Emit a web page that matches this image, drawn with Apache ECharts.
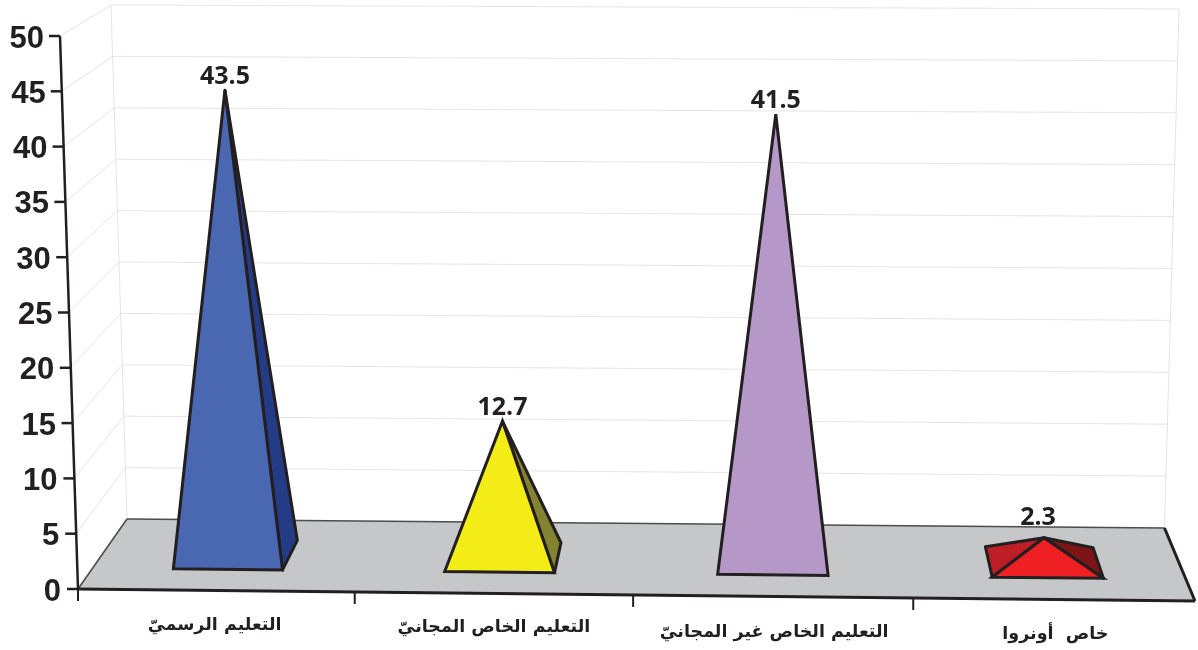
<!DOCTYPE html>
<html><head><meta charset="utf-8">
<style>html,body{margin:0;padding:0;background:#fff}#c{width:1198px;height:650px}</style>
<script src="https://cdn.jsdelivr.net/npm/echarts@6/dist/echarts.min.js"></script>
</head><body><div id="c"></div>
<script>
const categories = ['التعليم الرسميّ', 'التعليم الخاص المجانيّ', 'التعليم الخاص غير المجانيّ', 'خاص  أونروا'];
const values = [43.5, 12.7, 41.5, 2.3];
const valueLabels = ['43.5', '12.7', '41.5', '2.3'];
const yTicks = [0, 5, 10, 15, 20, 25, 30, 35, 40, 45, 50];
const faceColors = ['#4a68b1', '#f3ec17', '#b598c7', '#ee2024'];
const leftColors = ['#243b85', '#838332', '#8f78a0', '#be1e26'];
const rightColors = ['#243b85', '#838332', '#8f78a0', '#7f1416'];

// perspective frame: front/back, left/right corners at value 0 and at the axis maximum
const INK = '#231f20';
const WALL = '#e4e5e5';
const FRAME = {
  flb: [78, 589], frb: [1195, 601], blb: [127, 519], brb: [1164.5, 528],
  flt: [60, 36], frt: [1213, 41], blt: [111, 5], brt: [1179, 9]
};
function lerp(a, b, s) { return [a[0] + (b[0] - a[0]) * s, a[1] + (b[1] - a[1]) * s]; }
function project(u, t, w) {
  const uu = u - 0.012 * u * (1 - u);
  const bottom = lerp(lerp(FRAME.flb, FRAME.frb, uu), lerp(FRAME.blb, FRAME.brb, uu), w);
  const top = lerp(lerp(FRAME.flt, FRAME.frt, uu), lerp(FRAME.blt, FRAME.brt, uu), w);
  return lerp(bottom, top, t);
}
function toFrac(params, api, xv, yv) {
  const cs = params.coordSys;
  const p = api.coord([xv, yv]);
  return [(p[0] - cs.x) / cs.width, (cs.y + cs.height - p[1]) / cs.height];
}
const DEPTH_FRONT = 0.3, DEPTH_BACK = 0.72, DEPTH_MID = 0.51, HALF = 0.2015;

function poly(points, fill) {
  return { type: 'polygon', shape: { points }, style: { fill, stroke: 'none' } };
}
function sideFace(points, fill) {
  return { type: 'polygon', shape: { points }, style: { fill, stroke: INK, lineWidth: 3, lineJoin: 'round' } };
}
function peak(points, fill) {
  return { type: 'polygon', shape: { points }, style: { fill, stroke: INK, lineWidth: 3, lineJoin: 'miter', miterLimit: 8 } };
}
function line(a, b, stroke, lw) {
  return { type: 'line', shape: { x1: a[0], y1: a[1], x2: b[0], y2: b[1] }, style: { stroke, lineWidth: lw, lineCap: 'butt' } };
}
// signed pixel distance of point p from the ray a -> b
function side(a, b, p) {
  const dx = b[0] - a[0], dy = b[1] - a[1];
  return (dx * (p[1] - a[1]) - dy * (p[0] - a[0])) / Math.hypot(dx, dy);
}

function renderWall(params, api) {
  const t = toFrac(params, api, 0, api.value(0))[1];
  const kids = [
    line(project(0, t, 0), project(0, t, 1), WALL, 1),
    line(project(0, t, 1), project(1, t, 1), WALL, 1)
  ];
  if (params.dataIndex === 0) {
    kids.push(line(project(0, 0, 1), project(0, 1, 1), WALL, 1));
    kids.push(line(project(1, 0, 1), project(1, 1, 1), WALL, 1));
  }
  return { type: 'group', children: kids };
}
function renderFloor(params, api) {
  const a = project(0, 0, 0), b = project(1, 0, 0), c = project(1, 0, 1), d = project(0, 0, 1);
  return { type: 'group', children: [
    poly([a, b, c, d], '#c6c7c9'),
    line(d, c, '#4d4d4f', 1.6),
    line(a, d, '#4d4d4f', 1.6),
    line(c, b, INK, 3),
    line(a, b, INK, 3),
    line(project(0, 0, 0), project(0, 1, 0), INK, 2.5)
  ] };
}
function renderYTick(params, api) {
  const t = toFrac(params, api, 0, api.value(0))[1];
  const p = project(0, t, 0);
  return line([p[0] - 11, p[1]], p, INK, 2.5);
}
function renderPyramid(params, api) {
  const i = params.dataIndex;
  const band = api.size([1, 0])[0] / params.coordSys.width;
  const f = toFrac(params, api, api.value(0), api.value(1));
  const h = band * HALF;
  const fl = project(f[0] - h, 0, DEPTH_FRONT), fr = project(f[0] + h, 0, DEPTH_FRONT);
  const bl = project(f[0] - h, 0, DEPTH_BACK), br = project(f[0] + h, 0, DEPTH_BACK);
  const apex = project(f[0], f[1], DEPTH_MID);
  const tickTop = project(f[0] - band / 2, 0, 0);
  const low = api.value(1) < 5;
  const kids = [line([tickTop[0], tickTop[1] + 1], [tickTop[0], tickTop[1] + 12], INK, 2)];
  if (side(fl, apex, bl) < -4) kids.push(sideFace([fl, bl, apex], leftColors[i]));
  if (side(fr, apex, br) > 4) kids.push(sideFace([fr, br, apex], rightColors[i]));
  kids.push(peak([fl, fr, apex], faceColors[i]));
  kids.push({ type: 'text', x: apex[0] - (low ? 6 : 0), y: apex[1] - (low ? 20 : 13),
    style: { text: valueLabels[i], fill: INK, font: '700 25px "Open Sans"', textAlign: 'center', textVerticalAlign: 'middle' } });
  return { type: 'group', children: kids };
}

const yRich = {}, xRich = {};
yTicks.forEach(v => { yRich['y' + v] = { fontWeight: 700, fontSize: 31, fontFamily: 'Liberation Sans', color: INK, padding: [6, v * 0.34, 0, 0] }; });
const xPadTop = [0, 2, 7, 9];
const xPadRight = [6, 6, 4, 0];
categories.forEach((c, i) => { xRich['x' + i] = { fontWeight: 700, fontSize: 17.5, fontFamily: 'DejaVu Sans', color: INK, padding: [xPadTop[i], xPadRight[i], 0, 0] }; });

const chart = echarts.init(document.getElementById('c'), null, { renderer: 'canvas' });
chart.setOption({
  animation: false,
  backgroundColor: '#fff',
  grid: { left: 78, top: 36, width: 1117, height: 553, containLabel: false },
  xAxis: { type: 'category', data: categories, axisLine: { show: false }, axisTick: { show: false }, splitLine: { show: false },
    axisLabel: { margin: 27, interval: 0, formatter: (v, i) => '{x' + i + '|' + v + '}', rich: xRich } },
  yAxis: { type: 'value', min: 0, max: 50, interval: 5, axisLine: { show: false }, axisTick: { show: false }, splitLine: { show: false },
    axisLabel: { margin: 17, formatter: v => '{y' + v + '|' + v + '}', rich: yRich } },
  series: [
    { type: 'custom', name: 'wall', coordinateSystem: 'cartesian2d', clip: false, z: 1, silent: true,
      encode: { x: 1, y: 0 }, data: yTicks.map(v => [v, 0]), renderItem: (p, api) => renderWall(p, { coord: c => api.coord(c), value: () => api.value(0) }) },
    { type: 'custom', name: 'floor', coordinateSystem: 'cartesian2d', clip: false, z: 2, silent: true,
      encode: { x: 0, y: 1 }, data: [[0, 0]], renderItem: renderFloor },
    { type: 'custom', name: 'yticks', coordinateSystem: 'cartesian2d', clip: false, z: 3, silent: true,
      encode: { x: 1, y: 0 }, data: yTicks.map(v => [v, 0]), renderItem: (p, api) => renderYTick(p, { coord: c => api.coord(c), value: () => api.value(0) }) },
    { type: 'custom', name: 'pyramids', coordinateSystem: 'cartesian2d', clip: false, z: 4, silent: true,
      encode: { x: 0, y: 1 }, data: values.map((v, i) => [i, v]), renderItem: renderPyramid }
  ]
});
</script></body></html>
